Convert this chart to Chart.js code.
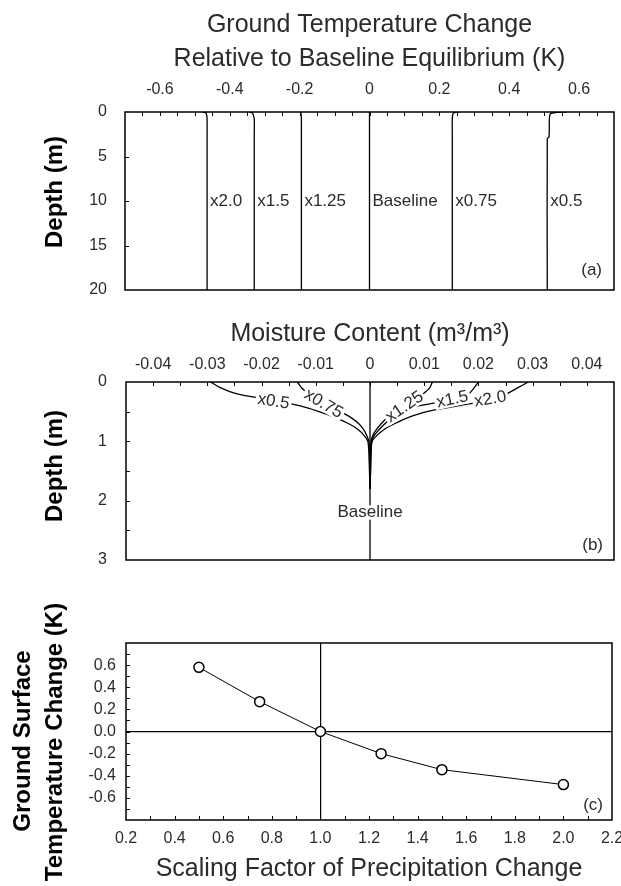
<!DOCTYPE html>
<html>
<head>
<meta charset="utf-8">
<script src="https://cdn.jsdelivr.net/npm/chart.js@4.4.1/dist/chart.umd.min.js"></script>
<style>
  html, body { margin: 0; padding: 0; background: #fff; }
  #page { position: relative; width: 621px; height: 886px; }
  .panel { position: absolute; left: 0; width: 621px; }
  .panel canvas { display: block; }
</style>
</head>
<body>
<div id="page">
  <div class="panel" style="top:0;height:300px"><canvas id="chartA" width="621" height="300"></canvas></div>
  <div class="panel" style="top:300px;height:280px"><canvas id="chartB" width="621" height="280"></canvas></div>
  <div class="panel" style="top:580px;height:306px"><canvas id="chartC" width="621" height="306"></canvas></div>
</div>
<script>
// (a) ground temperature change profiles, K
var aDepth = [0, 0.05, 0.2, 0.8, 2.8, 3.0, 20];
var aTempX20 = [-0.478, -0.472, -0.467, -0.465, -0.465, -0.465, -0.465];
var aTempX15 = [-0.343, -0.338, -0.334, -0.330, -0.330, -0.330, -0.330];
var aTempX125 = [-0.200, -0.197, -0.196, -0.195, -0.195, -0.195, -0.195];
var aTempBase = [0, 0, 0, 0, 0, 0, 0];
var aTempX075 = [0.258, 0.245, 0.239, 0.237, 0.237, 0.237, 0.237];
var aTempX05 = [0.565, 0.535, 0.518, 0.515, 0.514, 0.509, 0.509];
var aTempTicks = [-0.6, -0.4, -0.2, 0, 0.2, 0.4, 0.6];
var aDepthTicks = [0, 5, 10, 15, 20];

// (b) moisture content change profiles, m3/m3
var bDepth = [0, 0.1, 0.2, 0.3, 0.4, 0.5, 0.6, 0.7, 0.8, 0.9, 1.0, 1.2, 1.5, 1.8];
var bMoistX05 = [-0.0294, -0.0275, -0.0245, -0.0185, -0.0130, -0.0094, -0.0064, -0.0040, -0.0022, -0.0011, -0.0004, -0.0002, -0.0001, 0];
var bMoistX075 = [-0.0134, -0.0126, -0.0112, -0.0095, -0.0078, -0.0055, -0.0035, -0.0021, -0.0012, -0.0006, -0.0002, -0.0001, -0.00005, 0];
var bMoistX125 = [0.0115, 0.0110, 0.0098, 0.0082, 0.0066, 0.0048, 0.0032, 0.0021, 0.0012, 0.0005, 0.0002, 0.0001, 0.00005, 0];
var bMoistX15 = [0.0200, 0.0192, 0.0182, 0.0150, 0.0092, 0.0055, 0.0040, 0.0028, 0.0017, 0.0008, 0.0003, 0.00015, 0.0001, 0];
var bMoistX20 = [0.0292, 0.0272, 0.0252, 0.0220, 0.0165, 0.0105, 0.0070, 0.0046, 0.0026, 0.0013, 0.0004, 0.0002, 0.0001, 0];
var bBaseDepth = [0, 3];
var bMoistBase = [0, 0];
var bMoistTicks = [-0.04, -0.03, -0.02, -0.01, 0, 0.01, 0.02, 0.03, 0.04];
var bDepthTicks = [0, 1, 2, 3];

// (c) ground surface temperature change vs precipitation scaling
var cScale = [0.5, 0.75, 1.0, 1.25, 1.5, 2.0];
var cTemp = [0.58, 0.27, 0.0, -0.2, -0.345, -0.48];
var cScaleTicks = [0.2, 0.4, 0.6, 0.8, 1.0, 1.2, 1.4, 1.6, 1.8, 2.0, 2.2];
var cTempTicks = [-0.6, -0.4, -0.2, 0, 0.2, 0.4, 0.6];

var FONT = "'Liberation Sans', Arial, sans-serif";
var TEXT = '#2b2b2b';
var INK = '#000';

function pairs(xs, ys) {
  return xs.map(function (x, i) { return { x: x, y: ys[i] }; });
}

function profile(values, depths) {
  return {
    data: pairs(values, depths),
    showLine: true,
    borderColor: INK,
    borderWidth: 1.3,
    pointRadius: 0,
    tension: 0.25
  };
}

function fixedTicks(list) {
  return function (scale) {
    scale.ticks = list.map(function (v) { return { value: v }; });
  };
}

function fixSize(prop, size) {
  return function (scale) {
    scale[prop] = size;
    scale.paddingLeft = scale.paddingRight = scale.paddingTop = scale.paddingBottom = 0;
  };
}

// frame round the plot area plus short inward tick marks
var frameTicks = {
  id: 'frameTicks',
  afterDatasetsDraw: function (chart, args, opts) {
    var ctx = chart.ctx;
    var area = chart.chartArea;
    ctx.save();
    ctx.strokeStyle = INK;
    ctx.lineWidth = 1;
    (opts.marks || []).forEach(function (m) {
      var scale = chart.scales[m.axis];
      var n = Math.round((m.to - m.from) / m.step);
      for (var i = 0; i <= n; i++) {
        var p = Math.round(scale.getPixelForValue(m.from + i * m.step)) + 0.5;
        ctx.beginPath();
        if (m.side === 'top') { ctx.moveTo(p, area.top); ctx.lineTo(p, area.top + m.len); }
        if (m.side === 'bottom') { ctx.moveTo(p, area.bottom); ctx.lineTo(p, area.bottom - m.len); }
        if (m.side === 'left') { ctx.moveTo(area.left, p); ctx.lineTo(area.left + m.len, p); }
        ctx.stroke();
      }
    });
    ctx.lineWidth = 1.5;
    ctx.strokeRect(area.left, area.top, area.right - area.left, area.bottom - area.top);
    ctx.restore();
  }
};

// free text: curve labels, panel letters, rotated axis titles
var noteText = {
  id: 'noteText',
  afterDraw: function (chart, args, opts) {
    var ctx = chart.ctx;
    var area = chart.chartArea;
    (opts.items || []).forEach(function (it) {
      var px, py;
      if (it.at === 'data') {
        px = chart.scales.x.getPixelForValue(it.x);
        py = chart.scales.y.getPixelForValue(it.y);
      } else if (it.at === 'corner') {
        px = area.right - it.x;
        py = area.bottom - it.y;
      } else {
        px = it.x;
        py = it.y;
      }
      px += it.dx || 0;
      py += it.dy || 0;
      var size = it.size || 17;
      ctx.save();
      ctx.translate(px, py);
      ctx.rotate((it.rotation || 0) * Math.PI / 180);
      ctx.font = (it.weight || 'normal') + ' ' + size + 'px ' + FONT;
      ctx.textAlign = it.align || 'center';
      ctx.textBaseline = 'middle';
      if (it.bg) {
        var w = ctx.measureText(it.text).width;
        var x0 = it.align === 'left' ? 0 : (it.align === 'right' ? -w : -w / 2);
        ctx.fillStyle = '#fff';
        ctx.fillRect(x0 - 2, -size * 0.42, w + 4, size * 0.84);
      }
      ctx.fillStyle = it.color || TEXT;
      ctx.fillText(it.text, 0, 0);
      ctx.restore();
    });
  }
};

function tickFont() {
  return { family: FONT, size: 16 };
}

var common = {
  responsive: false,
  animation: false,
  events: []
};

// ---- panel (a)
new Chart(document.getElementById('chartA'), {
  type: 'scatter',
  data: {
    datasets: [
      profile(aTempX20, aDepth),
      profile(aTempX15, aDepth),
      profile(aTempX125, aDepth),
      profile(aTempBase, aDepth),
      profile(aTempX075, aDepth),
      profile(aTempX05, aDepth)
    ]
  },
  options: Object.assign({}, common, {
    layout: { padding: { top: 0, right: 7, bottom: 10, left: 0 } },
    plugins: {
      legend: { display: false },
      tooltip: { enabled: false },
      frameTicks: {
        marks: [
          { axis: 'x', side: 'top', from: -0.65, to: 0.65, step: 0.05, len: 4 },
          { axis: 'y', side: 'left', from: 5, to: 15, step: 5, len: 4 }
        ]
      },
      noteText: {
        items: [
          { at: 'data', text: 'x2.0', x: aTempX20[6], y: 10, dx: 3, align: 'left' },
          { at: 'data', text: 'x1.5', x: aTempX15[6], y: 10, dx: 3, align: 'left' },
          { at: 'data', text: 'x1.25', x: aTempX125[6], y: 10, dx: 3, align: 'left' },
          { at: 'data', text: 'Baseline', x: aTempBase[6], y: 10, dx: 3, align: 'left' },
          { at: 'data', text: 'x0.75', x: aTempX075[6], y: 10, dx: 3, align: 'left' },
          { at: 'data', text: 'x0.5', x: aTempX05[6], y: 10, dx: 3, align: 'left' },
          { at: 'corner', text: '(a)', x: 12, y: 20, align: 'right' },
          { at: 'px', text: 'Depth (m)', x: 55, y: 192, rotation: -90, weight: 'bold', size: 24, color: INK }
        ]
      }
    },
    scales: {
      x: {
        type: 'linear', position: 'top', min: -0.7, max: 0.7,
        grid: { display: false }, border: { display: false },
        afterBuildTicks: fixedTicks(aTempTicks),
        afterFit: fixSize('height', 112),
        ticks: { padding: 5, color: TEXT, font: tickFont(), maxRotation: 0, autoSkip: false,
          callback: function (v) { return String(v); } },
        title: { display: true, color: TEXT, padding: { top: 8, bottom: 0 },
          font: { family: FONT, size: 25, lineHeight: 1.36 },
          text: ['Ground Temperature Change', 'Relative to Baseline Equilibrium (K)'] }
      },
      y: {
        type: 'linear', reverse: true, min: 0, max: 20,
        grid: { display: false }, border: { display: false },
        afterBuildTicks: fixedTicks(aDepthTicks),
        afterFit: fixSize('width', 125),
        ticks: { padding: 10, color: TEXT, font: tickFont() }
      }
    }
  }),
  plugins: [frameTicks, noteText]
});

// ---- panel (b)
new Chart(document.getElementById('chartB'), {
  type: 'scatter',
  data: {
    datasets: [
      profile(bMoistBase, bBaseDepth),
      profile(bMoistX05, bDepth),
      profile(bMoistX075, bDepth),
      profile(bMoistX125, bDepth),
      profile(bMoistX15, bDepth),
      profile(bMoistX20, bDepth)
    ]
  },
  options: Object.assign({}, common, {
    layout: { padding: { top: 0, right: 7, bottom: 20, left: 0 } },
    plugins: {
      legend: { display: false },
      tooltip: { enabled: false },
      frameTicks: {
        marks: [
          { axis: 'x', side: 'top', from: -0.04, to: 0.04, step: 0.005, len: 4 },
          { axis: 'y', side: 'left', from: 0.5, to: 2.5, step: 0.5, len: 4 }
        ]
      },
      noteText: {
        items: [
          { at: 'data', text: 'x0.5', x: -0.0178, y: 0.33, rotation: 9, size: 17, bg: true },
          { at: 'data', text: 'x0.75', x: -0.0086, y: 0.37, rotation: 31, size: 17, bg: true },
          { at: 'data', text: 'x1.25', x: 0.0064, y: 0.42, rotation: -35, size: 17, bg: true },
          { at: 'data', text: 'x1.5', x: 0.0152, y: 0.295, rotation: -12, size: 17, bg: true },
          { at: 'data', text: 'x2.0', x: 0.0222, y: 0.29, rotation: -10, size: 17, bg: true },
          { at: 'data', text: 'Baseline', x: 0, y: 2.2, bg: true },
          { at: 'corner', text: '(b)', x: 11, y: 15, align: 'right' },
          { at: 'px', text: 'Depth (m)', x: 55, y: 166, rotation: -90, weight: 'bold', size: 24, color: INK }
        ]
      }
    },
    scales: {
      x: {
        type: 'linear', position: 'top', min: -0.045, max: 0.045,
        grid: { display: false }, border: { display: false },
        afterBuildTicks: fixedTicks(bMoistTicks),
        afterFit: fixSize('height', 82),
        ticks: { padding: 0, color: TEXT, font: tickFont(), maxRotation: 0, autoSkip: false,
          callback: function (v) { return String(v); } },
        title: { display: true, color: TEXT, padding: { top: 19, bottom: 0 },
          font: { family: FONT, size: 25, lineHeight: 1.2 },
          text: 'Moisture Content (m\u00b3/m\u00b3)' }
      },
      y: {
        type: 'linear', reverse: true, min: 0, max: 3,
        grid: { display: false }, border: { display: false },
        afterBuildTicks: fixedTicks(bDepthTicks),
        afterFit: fixSize('width', 126),
        ticks: { padding: 11, color: TEXT, font: tickFont() }
      }
    }
  }),
  plugins: [frameTicks, noteText]
});

// ---- panel (c)
new Chart(document.getElementById('chartC'), {
  type: 'line',
  data: {
    datasets: [{
      data: pairs(cScale, cTemp),
      borderColor: INK,
      borderWidth: 1,
      tension: 0,
      pointRadius: 5,
      pointBorderWidth: 1.5,
      pointBorderColor: INK,
      pointBackgroundColor: '#fff'
    }]
  },
  options: Object.assign({}, common, {
    layout: { padding: { top: 63, right: 9, bottom: 0, left: 0 } },
    plugins: {
      legend: { display: false },
      tooltip: { enabled: false },
      frameTicks: {
        marks: [
          { axis: 'x', side: 'bottom', from: 0.3, to: 2.1, step: 0.1, len: 4 },
          { axis: 'y', side: 'left', from: -0.7, to: 0.7, step: 0.1, len: 4 }
        ]
      },
      noteText: {
        items: [
          { at: 'corner', text: '(c)', x: 9, y: 15, align: 'right' },
          { at: 'px', text: 'Ground Surface', x: 23, y: 161, rotation: -90, weight: 'bold', size: 24, color: INK },
          { at: 'px', text: 'Temperature Change (K)', x: 55, y: 162, rotation: -90, weight: 'bold', size: 24, color: INK }
        ]
      }
    },
    scales: {
      x: {
        type: 'linear', position: 'bottom', min: 0.2, max: 2.2,
        border: { display: false },
        grid: { drawTicks: false, lineWidth: 1.2,
          color: function (c) { return c.tick && Math.abs(c.tick.value - 1) < 1e-9 ? INK : 'rgba(0,0,0,0)'; } },
        afterBuildTicks: fixedTicks(cScaleTicks),
        afterFit: fixSize('height', 66),
        ticks: { padding: 9, color: TEXT, font: tickFont(), maxRotation: 0, autoSkip: false,
          callback: function (v) { return Number(v).toFixed(1); } },
        title: { display: true, color: TEXT, padding: { top: 0, bottom: 2 },
          font: { family: FONT, size: 25, lineHeight: 1.2 },
          text: 'Scaling Factor of Precipitation Change' }
      },
      y: {
        type: 'linear', min: -0.8, max: 0.8,
        border: { display: false },
        grid: { drawTicks: false, lineWidth: 1.2,
          color: function (c) { return c.tick && Math.abs(c.tick.value) < 1e-9 ? INK : 'rgba(0,0,0,0)'; } },
        afterBuildTicks: fixedTicks(cTempTicks),
        afterFit: fixSize('width', 126),
        ticks: { padding: 10, color: TEXT, font: tickFont(),
          callback: function (v) { return Number(v).toFixed(1); } }
      }
    }
  }),
  plugins: [frameTicks, noteText]
});
</script>
</body>
</html>
